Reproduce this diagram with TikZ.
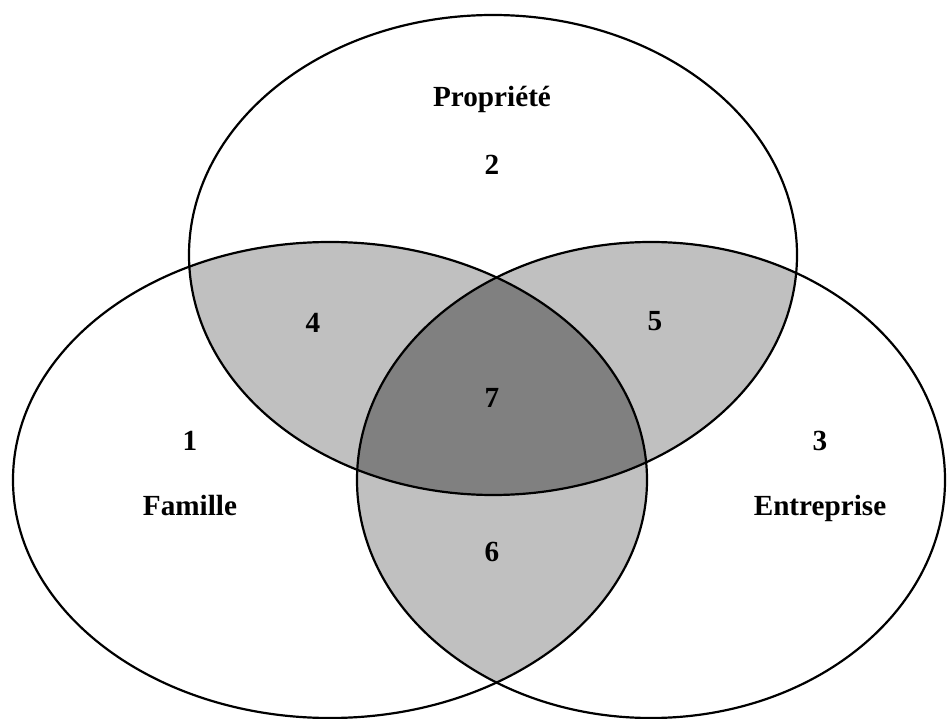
\documentclass[tikz,border=0pt]{standalone}
\usepackage{fontspec}
\setmainfont{Liberation Serif}
\usepackage{tikz}
\definecolor{grisclair}{HTML}{C0C0C0}
\definecolor{grisfonce}{HTML}{808080}
\tikzstyle{ensemble} = [draw=black, line width=1.1pt]
\tikzstyle{etiq} = [anchor=base, inner sep=0pt, font=\fontsize{14.6}{17}\selectfont\bfseries]
\def\propriete{(246.5,231.5) ellipse [x radius=152pt, y radius=120pt]}
\def\famille{(165,119) ellipse [x radius=158.5pt, y radius=119pt]}
\def\entreprise{(325.5,119) ellipse [x radius=147pt, y radius=119pt]}

\begin{document}
\begin{tikzpicture}[x=1pt, y=1pt]
	\useasboundingbox (0,0) rectangle (473.5,359);
	% zones communes a deux ensembles
	\begin{scope} \clip \propriete; \fill [grisclair] \famille; \end{scope}
	\begin{scope} \clip \propriete; \fill [grisclair] \entreprise; \end{scope}
	\begin{scope} \clip \famille; \fill [grisclair] \entreprise; \end{scope}
	% zone commune aux trois
	\begin{scope} \clip \propriete; \clip \famille; \fill [grisfonce] \entreprise; \end{scope}
	\draw [ensemble] \propriete;
	\draw [ensemble] \famille;
	\draw [ensemble] \entreprise;

	\node (lprop) [etiq] at (246,305.5) {Propriété};
	\node (num2) [etiq] at (246,271.5) {2};
	\node (num4) [etiq] at (156.5,192.5) {4};
	\node (num5) [etiq] at (327.5,193.5) {5};
	\node (num7) [etiq] at (246,155) {7};
	\node (num1) [etiq] at (95,134) {1};
	\node (lfam) [etiq] at (95,101.5) {Famille};
	\node (num3) [etiq] at (410,134) {3};
	\node (lent) [etiq] at (410,101.5) {Entreprise};
	\node (num6) [etiq] at (246,78.5) {6};
\end{tikzpicture}
\end{document}
